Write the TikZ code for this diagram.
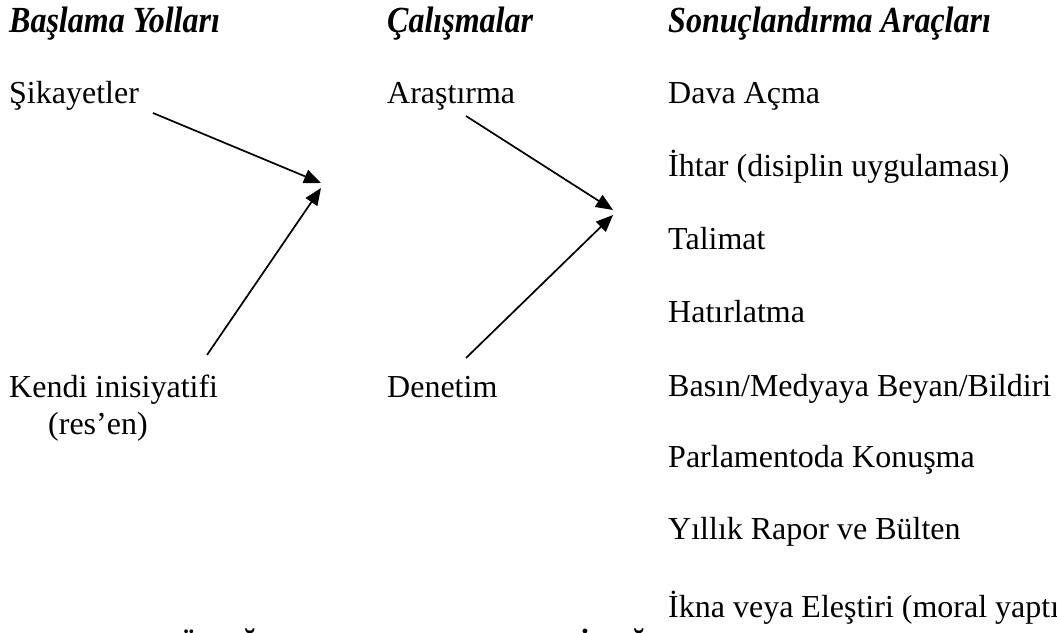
\documentclass[tikz,border=0pt]{standalone}
\usepackage{fontspec}
\setmainfont{Liberation Serif}
\usetikzlibrary{arrows.meta}
\begin{document}
\begin{tikzpicture}[x=1pt,y=-1pt,
  txt/.style={anchor=base west,inner sep=0pt,font=\fontsize{32}{38}\selectfont},
  head/.style={anchor=base west,inner sep=0pt,font=\fontsize{32}{38}\selectfont\bfseries\itshape},
  cut/.style={anchor=base,inner sep=0pt,font=\fontsize{32}{38}\selectfont\bfseries},
  arr/.style={line width=1.7pt,-{Triangle[length=17pt,width=14pt]}}]
\useasboundingbox (0,0) rectangle (1057,632);
\clip (0,0) rectangle (1057,632);
% headings
\node[head] (h1) at (9,32) {\scalebox{1}[1.15]{Başlama Yolları}};
\node[head] (h2) at (387,32) {\scalebox{1}[1.15]{Çalışmalar}};
\node[head] (h3) at (668,32) {\scalebox{1}[1.15]{Sonuçlandırma Araçları}};
% left column
\node[txt] (sik) at (9,103) {Şikayetler};
\node[txt] (ken) at (9,397) {Kendi inisiyatifi};
\node[txt] (res) at (48,434) {(res’en)};
% middle column
\node[txt] (ara) at (387,103) {Araştırma};
\node[txt] (den) at (387,397) {Denetim};
% right column
\node[txt] (r1) at (668,103) {Dava Açma};
\node[txt] (r2) at (668,176) {İhtar (disiplin uygulaması)};
\node[txt] (r3) at (668,249) {Talimat};
\node[txt] (r4) at (668,322) {Hatırlatma};
\node[txt] (r5) at (668,396) {Basın/Medyaya Beyan/Bildiri};
\node[txt] (r6) at (668,467) {Parlamentoda Konuşma};
\node[txt] (r7) at (668,539) {Yıllık Rapor ve Bülten};
\node[txt] (r8) at (668,617) {İkna veya Eleştiri (moral yaptırımı)};
% cut-off line at the bottom
\node[cut] (c1) at (188,656) {Ü};
\node[cut] (c2) at (249,656) {Ğ};
\node[cut] (c3) at (585,656) {İ};
\node[cut] (c4) at (638,656) {Ğ};
% arrow ends
\coordinate (s1) at (153,113);
\coordinate (s2) at (207,355);
\coordinate (t1) at (321,183);
\coordinate (t2) at (321,188);
\coordinate (s3) at (466,116);
\coordinate (s4) at (466,358);
\coordinate (t3) at (613,210);
\coordinate (t4) at (613,215);
\draw[arr] (s1) -- (t1);
\draw[arr] (s2) -- (t2);
\draw[arr] (s3) -- (t3);
\draw[arr] (s4) -- (t4);
\end{tikzpicture}
\end{document}
